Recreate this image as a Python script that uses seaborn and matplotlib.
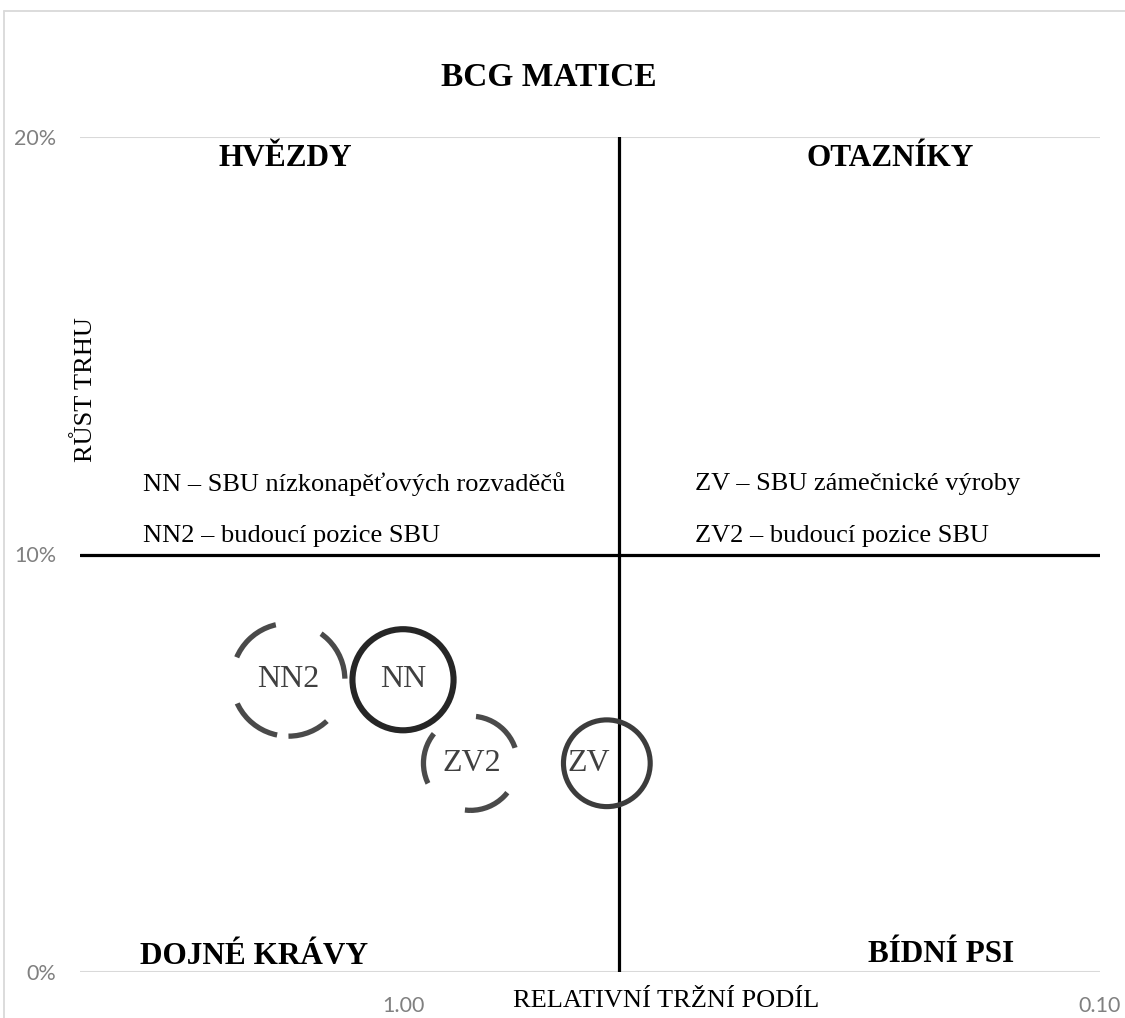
import numpy as np
import pandas as pd
import seaborn as sns
import matplotlib.pyplot as plt
from matplotlib.ticker import NullLocator
from matplotlib.lines import Line2D

# ---------------- data ----------------
sbu = ["NN", "NN2", "ZV", "ZV2"]
relative_share = [1.00, 1.46, 0.51, 0.80]       # relative market share (log axis, reversed)
market_growth = [0.070, 0.070, 0.050, 0.050]    # market growth
bubble_size = [53, 66, 39, 46]                  # bubble size (relative units)
is_future = [False, True, False, True]

divider_share = 0.49
divider_growth = 0.10

x_ticks = [1.0, 0.1]
x_tick_labels = ["1.00", "0.10"]
y_ticks = [0.0, 0.1, 0.2]
y_tick_labels = ["0%", "10%", "20%"]

title = "BCG MATICE"
x_label = "RELATIVNÍ TRŽNÍ PODÍL"
y_label = "RŮST TRHU"
quadrant_names = ["HVĚZDY", "OTAZNÍKY", "DOJNÉ KRÁVY", "BÍDNÍ PSI"]
legend_left = ["NN – SBU nízkonapěťových rozvaděčů", "NN2 – budoucí pozice SBU"]
legend_right = ["ZV – SBU zámečnické výroby", "ZV2 – budoucí pozice SBU"]

df = pd.DataFrame({"sbu": sbu, "share": relative_share, "growth": market_growth,
                   "size": bubble_size, "future": is_future})

# ---------------- style ----------------
sns.set_theme(style="white")
plt.rcParams["font.family"] = ["Liberation Serif", "DejaVu Serif"]
plt.rcParams["text.color"] = "black"
plt.rcParams["axes.labelcolor"] = "black"

W, H = 1125, 1018
fig = plt.figure(figsize=(W / 100, H / 100), dpi=100)
fig.patch.set_facecolor("white")

L, R, T, B = 80, 1100, 137, 972
ax = fig.add_axes([L / W, 1 - B / H, (R - L) / W, (B - T) / H])
ax.set_facecolor("white")

ax.set_xscale("log")
ax.set_xlim(2.907, 0.1)
ax.set_ylim(0, 0.2)

for s in ax.spines.values():
    s.set_visible(False)

# gridlines
for yv in y_ticks:
    ax.axhline(yv, color="#d9d9d9", lw=1.5, zorder=0)

# quadrant dividers
ax.axhline(divider_growth, color="black", lw=2.3, zorder=1)
ax.axvline(divider_share, color="black", lw=2.3, zorder=1)

# bubbles
edge_colors = {"NN": "#262626", "NN2": "#4a4a4a", "ZV": "#3c3c3c", "ZV2": "#4a4a4a"}
line_widths = {"NN": 4.4, "NN2": 3.8, "ZV": 3.7, "ZV2": 3.8}
for _, row in df.iterrows():
    ls = (2, (10.0, 9.0)) if row["future"] else "solid"
    sns.scatterplot(x=[row["share"]], y=[row["growth"]], s=row["size"] * 100,
                    marker="o", facecolor="none", edgecolor=edge_colors[row["sbu"]],
                    linewidth=line_widths[row["sbu"]], linestyle=ls,
                    ax=ax, legend=False, zorder=3)

label_offsets = {"NN": (0, 0), "NN2": (0, 0), "ZV": (-13, 0), "ZV2": (1, 0)}
for _, row in df.iterrows():
    ax.annotate(row["sbu"], (row["share"], row["growth"]),
                xytext=label_offsets[row["sbu"]], textcoords="offset points",
                ha="center", va="center", fontsize=23, color="#404040", zorder=4)

# ticks
ax.xaxis.set_minor_locator(NullLocator())
ax.yaxis.set_minor_locator(NullLocator())
ax.set_xticks(x_ticks)
ax.set_xticklabels(x_tick_labels)
ax.set_yticks(y_ticks)
ax.set_yticklabels(y_tick_labels)
ax.tick_params(axis="both", length=0, labelsize=15.5, labelcolor="#808080")
ax.tick_params(axis="y", pad=17)
ax.tick_params(axis="x", pad=17)
for lab in ax.get_xticklabels() + ax.get_yticklabels():
    lab.set_fontfamily(["Lato", "DejaVu Sans"])

# axis labels
ax.set_xlabel(x_label, fontsize=19, color="black", va="center")
ax.xaxis.set_label_coords((666 - L) / (R - L), (B - 1001) / (B - T))
ax.set_ylabel(y_label, fontsize=19, color="black", va="center")
ax.yaxis.set_label_coords((86 - L) / (R - L), (B - 390) / (B - T))

# title and quadrant names
def ftext(px, py, s, **kw):
    fig.text(px / W, 1 - py / H, s, color="black", **kw)

ftext(549, 77, title, fontsize=24, fontweight="bold", ha="center", va="center")
quad_pos = [(285, 158), (890, 158), (254, 956), (941, 954)]
for name, (px, py) in zip(quadrant_names, quad_pos):
    ftext(px, py, name, fontsize=22.5, fontweight="bold", ha="center", va="center")

for i, s in enumerate(legend_left):
    ftext(143, 484 + 52 * i, s, fontsize=19, ha="left", va="center")
for i, s in enumerate(legend_right):
    ftext(695, 484 + 52 * i, s, fontsize=19, ha="left", va="center")

# outer chart border (top and left visible)
fig.add_artist(Line2D([4 / W, 4 / W], [0, 1 - 11 / H], transform=fig.transFigure,
                      color="#d9d9d9", lw=1.3))
fig.add_artist(Line2D([4 / W, 1], [1 - 11 / H, 1 - 11 / H], transform=fig.transFigure,
                      color="#d9d9d9", lw=1.3))

fig.savefig("out.png", dpi=100, facecolor="white")
